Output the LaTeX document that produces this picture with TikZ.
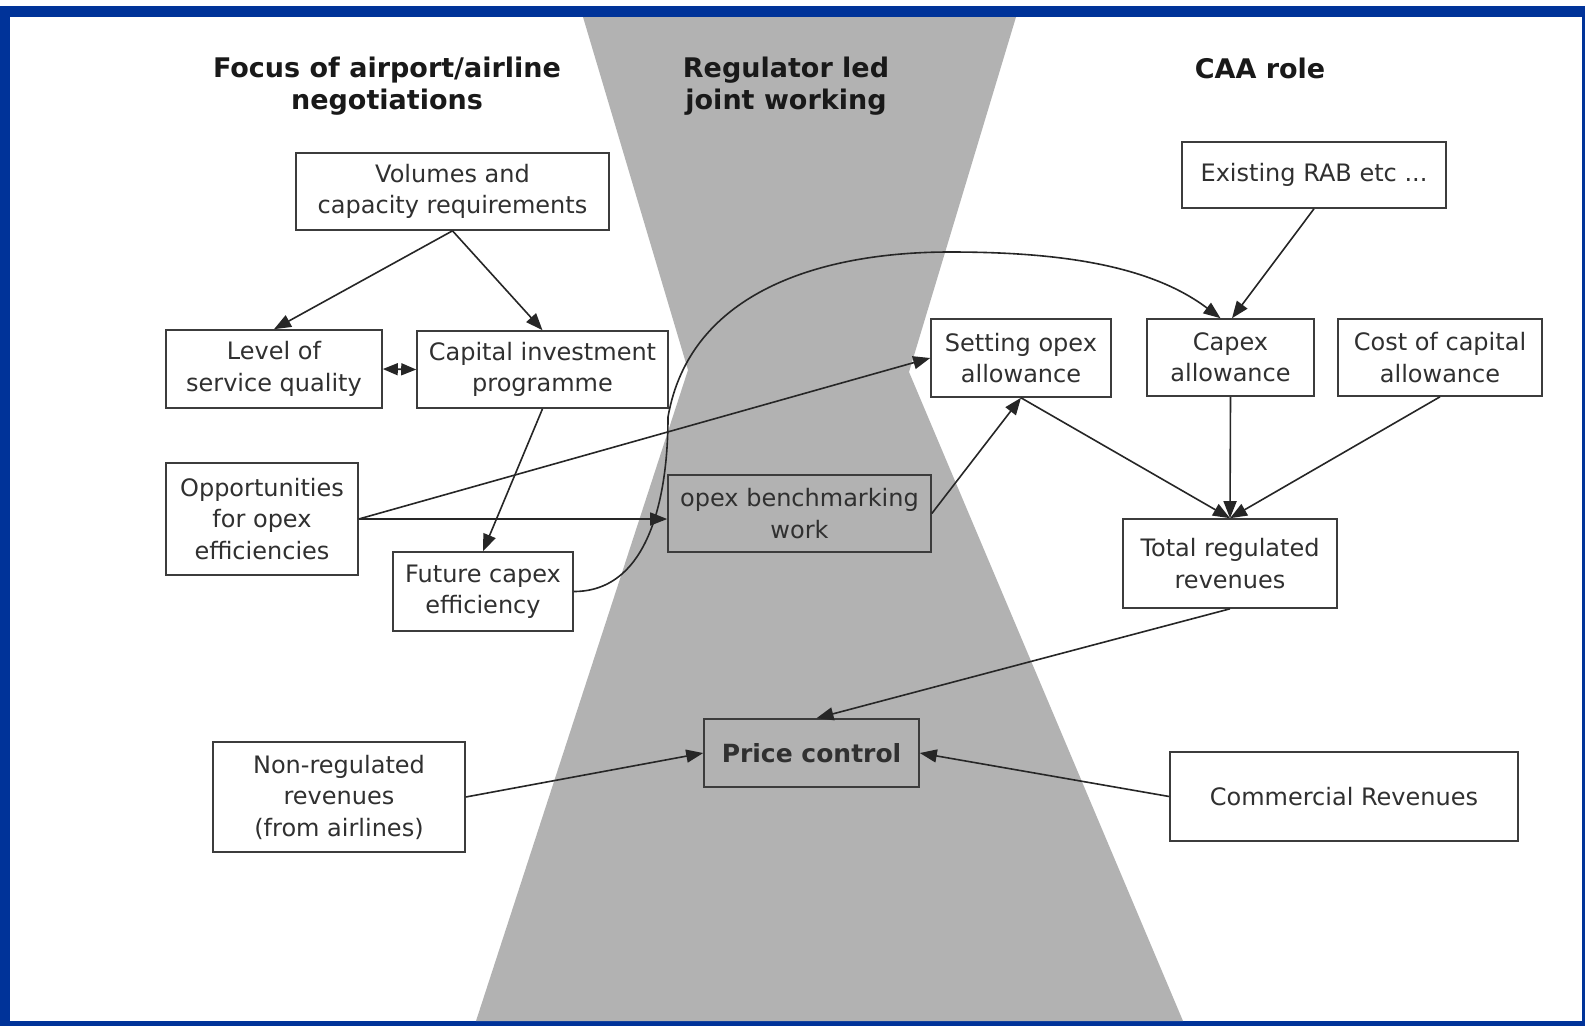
\documentclass[tikz,border=0pt]{standalone}
\usepackage{fontspec}
\setmainfont{DejaVu Sans}
\usetikzlibrary{arrows.meta}

\definecolor{frameblue}{HTML}{003399}
\definecolor{hourgrey}{HTML}{B2B2B2}
\definecolor{boxline}{HTML}{3C3C3C}
\definecolor{boxtext}{HTML}{303030}

\begin{document}
\begin{tikzpicture}[x=1pt, y=-1pt,
        box/.style={draw=boxline, line width=1.6pt, rectangle, align=center, inner sep=0pt,
            text=boxtext, font=\fontsize{24}{31.5}\selectfont},
        head/.style={align=center, font=\bfseries\fontsize{27}{32}\selectfont, text=black!90},
        link/.style={-{Triangle[length=17pt,width=13pt]}, line width=1.6pt, draw=black!85},
        twoway/.style={{Triangle[length=15pt,width=12pt]}-{Triangle[length=15pt,width=12pt]},
            line width=1.6pt, draw=black!85}]

            \useasboundingbox (0,0) rectangle (1585,1026);

            \fill[white] (0,0) rectangle (1585,1026);
            \fill[frameblue] (0,6) rectangle (1585,1026);
            \fill[white] (10,17) rectangle (1582,1021);

            \fill[hourgrey] (583,17) -- (688,370) -- (476,1021) -- (1183,1021) -- (909,372) -- (1016,17) -- cycle;

            \node[head] (hleft) at (387,86) {Focus of airport/airline\\negotiations};
            \node[head] (hmid) at (786,86) {Regulator led\\joint working};
            \node[head] (hright) at (1260,68) {CAA role};

            \node[box, minimum width=313, minimum height=77] (vol) at (452.5,191.5) {Volumes and\\capacity requirements};
            \node[box, minimum width=216, minimum height=78] (lev) at (274,369) {Level of\\service quality};
            \node[box, minimum width=251, minimum height=77] (cap) at (542.5,369.5) {Capital investment\\programme};
            \node[box, minimum width=192, minimum height=112] (opp) at (262,519) {Opportunities\\for opex\\efficiencies};
            \node[box, minimum width=180, minimum height=79] (fut) at (483,591.5) {Future capex\\efficiency};
            \node[box, minimum width=263, minimum height=77] (bench) at (799.5,513.5) {opex benchmarking\\work};

            \node[box, minimum width=264, minimum height=66] (rab) at (1314,175) {Existing RAB etc ...};
            \node[box, minimum width=180, minimum height=78] (set) at (1021,358) {Setting opex\\allowance};
            \node[box, minimum width=167, minimum height=77] (cpx) at (1230.5,357.5) {Capex\\allowance};
            \node[box, minimum width=204, minimum height=77] (coc) at (1440,357.5) {Cost of capital\\allowance};
            \node[box, minimum width=214, minimum height=89] (tot) at (1230,563.5) {Total regulated\\revenues};

            \node[box, minimum width=215, minimum height=68, font=\bfseries\fontsize{25}{31.5}\selectfont] (pc) at (811.5,753) {Price control};
            \node[box, minimum width=252, minimum height=110] (nonreg) at (339,797) {Non-regulated\\revenues\\(from airlines)};
            \node[box, minimum width=348, minimum height=89] (com) at (1344,796.5) {Commercial Revenues};

            \draw[link] (vol.south) -- (lev.north);
            \draw[link] (vol.south) -- (cap.north);
            \draw[twoway] (lev.east) -- (cap.west);
            \draw[link] (cap.south) -- (fut.north);

            \draw[link] (opp.east) -- (opp.east -| bench.west);
            \draw[link] (opp.east) -- (set.west);
            \draw[link] (bench.east) -- (set.south);

            \coordinate (rise) at (668,417);
            \coordinate (crest) at (950,252);
            \draw[link] (fut.east) .. controls (650,591.5) and (668,494) .. (rise)
                .. controls (690,291) and (822,252) .. (crest)
                .. controls (1059,252) and (1150,265) .. ([xshift=-10pt]cpx.north);

            \draw[link] (rab.south) -- ([xshift=1.5pt]cpx.north);

            \draw[link] (set.south) -- (tot.north);
            \draw[link] (cpx.south) -- (tot.north);
            \draw[link] (coc.south) -- (tot.north);

            \draw[link] (tot.south) -- ([xshift=5pt]pc.north);
            \draw[link] (nonreg.east) -- (pc.west);
            \draw[link] (com.west) -- (pc.east);
        \end{tikzpicture}
\end{document}
